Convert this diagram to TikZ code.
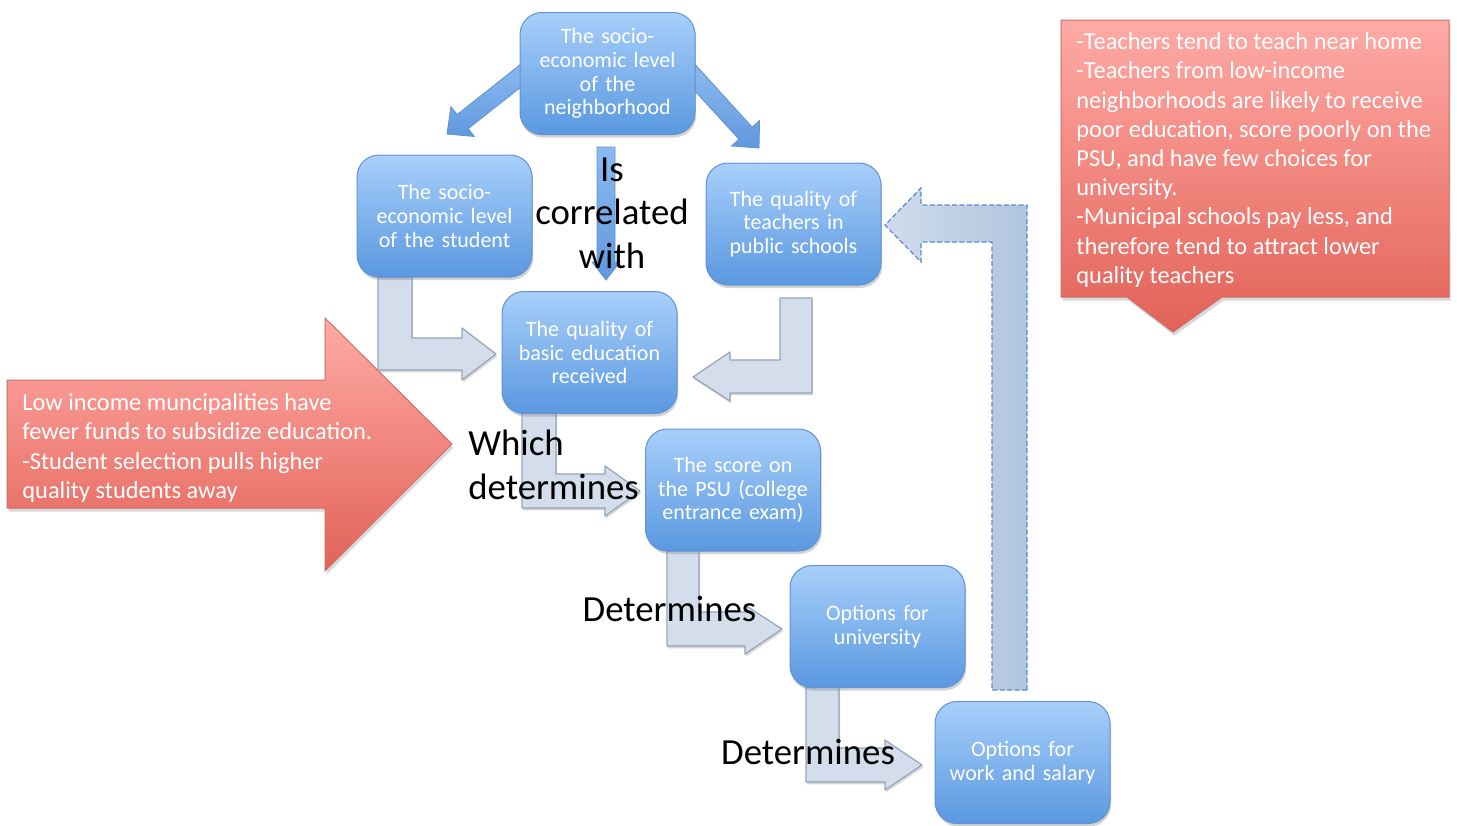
\documentclass[tikz,border=0pt]{standalone}
\usepackage{fontspec}
\setmainfont{Carlito}
\usetikzlibrary{calc,shadows}
\definecolor{bluetop}{RGB}{168,207,250}
\definecolor{bluebot}{RGB}{90,152,224}
\definecolor{blueline}{RGB}{98,146,210}
\definecolor{redtop}{RGB}{255,170,165}
\definecolor{redbot}{RGB}{226,98,88}
\definecolor{redline}{RGB}{205,110,105}
\definecolor{bentfill}{RGB}{212,221,236}
\definecolor{bentline}{RGB}{150,163,184}
\definecolor{fbfill}{RGB}{176,197,222}
\definecolor{fblight}{RGB}{208,220,236}
\definecolor{fbline}{RGB}{88,140,205}
\definecolor{arrtop}{RGB}{140,186,240}
\definecolor{arrbot}{RGB}{96,152,222}
\tikzset{
  box/.style={rectangle, rounded corners=11pt, minimum width=87.5pt, minimum height=61pt,
    text width=86pt, align=center, inner sep=0pt, top color=bluetop, bottom color=bluebot,
    draw=blueline, line width=0.5pt, text=white, font=\fontsize{11}{11.8}\selectfont,
    drop shadow={shadow xshift=0.6pt, shadow yshift=-1.5pt, opacity=0.35}},
  redshape/.style={top color=redtop, bottom color=redbot, draw=redline, line width=0.5pt,
    drop shadow={shadow xshift=0.8pt, shadow yshift=-1.8pt, opacity=0.3}},
  redtext/.style={text=white, font=\fontsize{12.2}{14.6}\selectfont, align=left, inner sep=0pt},
  bentarrow/.style={fill=bentfill, draw=bentline, line width=0.6pt, line join=round,
    drop shadow={shadow xshift=0.6pt, shadow yshift=-1.2pt, opacity=0.3}},
  fbarrow/.style={left color=fblight, right color=fbfill, draw=fbline, line width=0.6pt,
    dash pattern=on 2.5pt off 1.2pt},
  bluearrow/.style={top color=arrtop, bottom color=arrbot, draw=blueline, line width=0.4pt},
  lbl/.style={text=black, font=\fontsize{18.4}{21.8}\selectfont, inner sep=0pt}
}
\newcommand\blockarr[6]{%
  \coordinate (ba) at #2; \coordinate (bb) at #3;
  \coordinate (bc) at ($(bb)!#6!(ba)$);
  \draw[#1] ($(ba)!#4!90:(bb)$) -- ($(bc)!#4!90:(bb)$) -- ($(bc)!#5!90:(bb)$) -- (bb)
    -- ($(bc)!#5!-90:(bb)$) -- ($(bc)!#4!-90:(bb)$) -- ($(ba)!#4!-90:(bb)$) -- cycle;}
\begin{document}
\begin{tikzpicture}[x=0.5pt,y=-0.5pt]
\useasboundingbox[fill=white] (0,0) rectangle (1457,825);

% red left arrow
\draw[redshape] (7,380) -- (325,380) -- (325,318) -- (452,444) -- (325,571) -- (325,508) -- (7,508) -- cycle;
\node[redtext, anchor=west] (lt) at (22,448) {Low income muncipalities have\\fewer funds to subsidize education.\\-Student selection pulls higher\\quality students away};

% red callout right
\draw[redshape] (1061,20) -- (1449,20) -- (1449,297) -- (1222,297) -- (1173,332) -- (1127,297) -- (1061,297) -- cycle;
\node[redtext, anchor=west] (rt) at (1076,160) {-Teachers tend to teach near home\\-Teachers from low-income\\neighborhoods are likely to receive\\poor education, score poorly on the\\PSU, and have few choices for\\university.\\-Municipal schools pay less, and\\therefore tend to attract lower\\quality teachers};

% feedback arrow
\draw[fbarrow] (1027,690) -- (1027,205) -- (921,205) -- (921,188) -- (885,225) -- (921,262) -- (921,242) -- (992,242) -- (992,690) -- cycle;

% blue straight arrows
\blockarr{bluearrow}{(528,70)}{(447,134)}{4.5pt}{9.5pt}{10pt}
\blockarr{bluearrow}{(688,70)}{(759,148)}{4.5pt}{9.5pt}{10pt}
\blockarr{bluearrow}{(606,147)}{(606,280)}{4.5pt}{7pt}{9pt}

% bent arrows
\draw[bentarrow] (378,277) -- (412,277) -- (412,338) -- (462,338) -- (462,328) -- (496,354) -- (462,380) -- (462,370) -- (378,370) -- cycle;
\draw[bentarrow] (812,298) -- (812,393) -- (730,393) -- (730,401) -- (693,377) -- (730,352) -- (730,360) -- (780,360) -- (780,298) -- cycle;
\draw[bentarrow] (522,413) -- (556,413) -- (556,474) -- (605,474) -- (605,466) -- (640,491) -- (605,516) -- (605,508) -- (522,508) -- cycle;
\draw[bentarrow] (667,550) -- (699,550) -- (699,612) -- (745,612) -- (745,605) -- (782,629) -- (745,654) -- (745,646) -- (667,646) -- cycle;
\draw[bentarrow] (806,687) -- (839,687) -- (839,748) -- (885,748) -- (885,740) -- (922,765) -- (885,790) -- (885,782) -- (806,782) -- cycle;

% boxes
\node[box] (nb) at (607.5,73.5) {The socio-\\economic level\\of the\\neighborhood};
\node[box] (st) at (444.5,216) {The socio-\\economic level\\of the student};
\node[box] (tq) at (793.5,224) {The quality of\\teachers in\\public schools};
\node[box] (be) at (589.5,352.5) {The quality of\\basic education\\received};
\node[box] (psu) at (733,490) {The score on\\the PSU (college\\entrance exam)};
\node[box] (uni) at (877.5,626.5) {Options for\\university};
\node[box] (wk) at (1022.5,762.5) {Options for\\work and salary};

% labels
\node[lbl, align=center] (l1) at (612,213) {Is\\correlated\\with};
\node[lbl, align=left, anchor=west] (l2) at (468,465) {Which\\determines};
\node[lbl] (l3) at (669.5,609) {Determines};
\node[lbl] (l4) at (808,752) {Determines};
\end{tikzpicture}
\end{document}
